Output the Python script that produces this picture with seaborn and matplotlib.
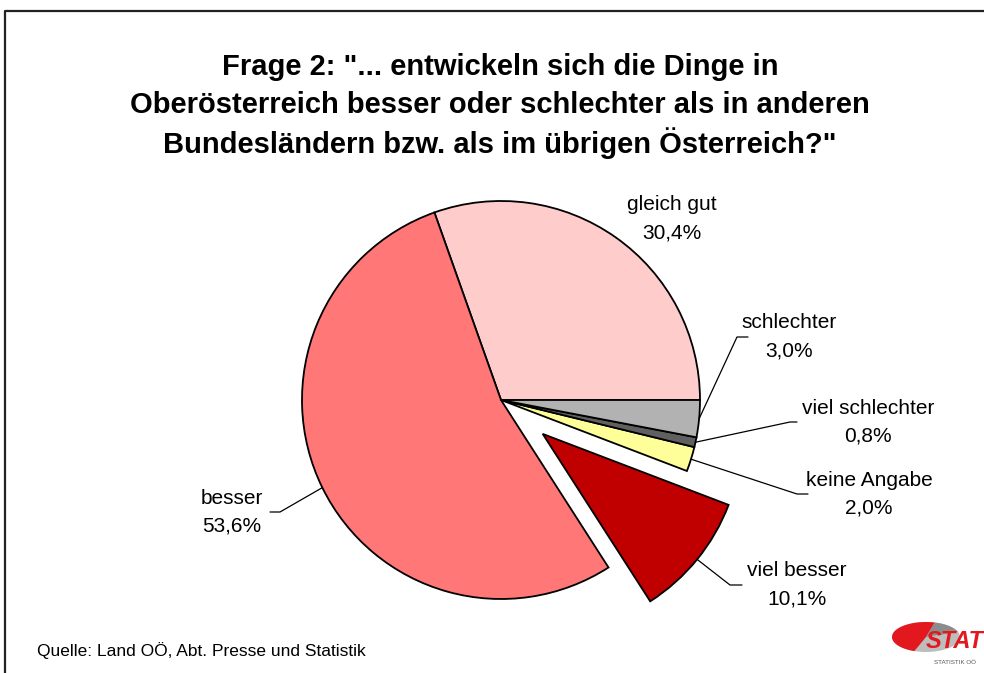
"""
Frage 2 pie: development of Upper Austria vs. other federal states.
"""

import matplotlib as mpl
import matplotlib.pyplot as plt
import numpy as np
import seaborn as sns
from matplotlib.patches import Ellipse, Polygon

# data (counter-clockwise from 3 o'clock, as in the original chart)
CATEGORIES = ["gleich gut", "besser", "viel besser", "keine Angabe", "viel schlechter", "schlechter"]
SHARES = [30.4, 53.6, 10.1, 2.0, 0.8, 3.0]
PCT_LABELS = ["30,4%", "53,6%", "10,1%", "2,0%", "0,8%", "3,0%"]
COLORS = ["#FFCCCC", "#FF7777", "#C00000", "#FFFF99", "#606060", "#B2B2B2"]
EXPLODE = [0, 0, 0.27, 0, 0, 0]  # fraction of radius

TITLE_LINES = [
    'Frage 2: "... entwickeln sich die Dinge in',
    "Oberösterreich besser oder schlechter als in anderen",
    'Bundesländern bzw. als im übrigen Österreich?"',
]
SOURCE = "Quelle: Land OÖ, Abt. Presse und Statistik"

W, H = 984, 673
CX, CY, R = 501, 400, 199  # pie centre / radius in pixels (y down)

# label layout: text centre (y down), elbow x, end-of-leader x
LABEL_POS = {
    "gleich gut": (672, 219, None, None),
    "besser": (232, 512, 280, 270),
    "viel besser": (797, 585, 730, 742),
    "keine Angabe": (869, 494, 797, 808),
    "viel schlechter": (868, 422, 790, 797),
    "schlechter": (789, 337, 737, 748),
}


def setup_style():
    sns.set_theme(style="white")
    mpl.rcParams.update({
        "font.family": ["Liberation Sans", "DejaVu Sans"],
        "text.color": "black",
        "figure.dpi": 100,
    })


def yu(y):
    # pixel y (down) -> axis y (up)
    return H - y


def draw_logo(ax):
    ex, ey, a, b = 926, 637, 34, 15
    ax.add_patch(Ellipse((ex, yu(ey)), 2 * a, 2 * b, facecolor="#BDBDBD", edgecolor="none"))
    t = np.radians(np.linspace(75, 250, 60))
    pts = np.vstack([[ex, yu(ey)], np.column_stack([ex + a * np.cos(t), yu(ey) + b * np.sin(t)])])
    ax.add_patch(Polygon(pts, closed=True, facecolor="#E3171E", edgecolor="none"))
    t2 = np.radians(np.linspace(20, 75, 30))
    pts2 = np.vstack([[ex, yu(ey)], np.column_stack([ex + a * np.cos(t2), yu(ey) + b * np.sin(t2)])])
    ax.add_patch(Polygon(pts2, closed=True, facecolor="#8C8C8C", edgecolor="none"))
    ax.text(955, yu(641), "STAT", ha="center", va="center", fontsize=17, fontweight="bold",
            fontstyle="italic", color="#E3171E", zorder=5)
    ax.text(955, yu(662), "STATISTIK OÖ", ha="center", va="center", fontsize=4.5, color="#555555")


def make_figure():
    setup_style()
    fig = plt.figure(figsize=(W / 100, H / 100), dpi=100, facecolor="white")
    ax = fig.add_axes([0, 0, 1, 1])

    wedges, _ = ax.pie(
        SHARES,
        colors=COLORS,
        explode=[e * R for e in EXPLODE],
        startangle=0,
        counterclock=True,
        radius=R,
        center=(CX, yu(CY)),
        wedgeprops={"edgecolor": "black", "linewidth": 1.3},
        frame=True,
    )
    ax.set_xlim(0, W)
    ax.set_ylim(0, H)
    ax.set_aspect("equal")
    ax.axis("off")

    for wedge, name, pct in zip(wedges, CATEGORIES, PCT_LABELS):
        tx, ty, elbow_x, end_x = LABEL_POS[name]
        ax.text(tx, yu(ty), f"{name}\n{pct}", ha="center", va="center", fontsize=15,
                linespacing=1.6)
        if elbow_x is None:
            continue
        mid = np.radians((wedge.theta1 + wedge.theta2) / 2)
        ox, oy = wedge.center
        sx, sy = ox + R * np.cos(mid), oy + R * np.sin(mid)
        ax.plot([sx, elbow_x, end_x], [sy, yu(ty), yu(ty)], color="black", lw=0.9, zorder=4)

    for i, line in enumerate(TITLE_LINES):
        fig.text(0.508, 1 - (67 + 38 * i) / H, line, ha="center", va="center", fontsize=21,
                 fontweight="bold")
    fig.text(37 / W, 1 - 651 / H, SOURCE, ha="left", va="center", fontsize=12.5)

    # chart border (open to the right and bottom)
    ax.plot([5, 5, W + 5], [-5, yu(11), yu(11)], color="#222222", lw=1.6, clip_on=False)

    draw_logo(ax)
    return fig


def main():
    fig = make_figure()
    fig.savefig("out.png", dpi=100, facecolor="white")
    plt.close(fig)


if __name__ == "__main__":
    main()
